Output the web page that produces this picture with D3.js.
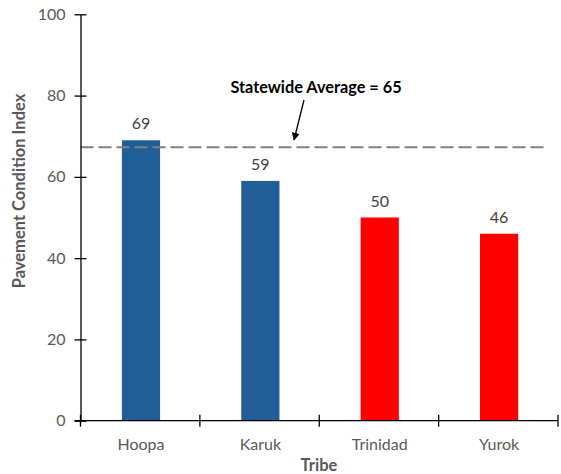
<!DOCTYPE html>
<html><head><meta charset="utf-8">
<script src="https://cdn.jsdelivr.net/npm/d3@7/dist/d3.min.js"></script>
<style>body{margin:0;background:#fff;} svg{display:block;font-family:Lato,"Open Sans",sans-serif;}</style>
</head><body><div id="chart"></div>
<script>
const categories = ["Hoopa", "Karuk", "Trinidad", "Yurok"];
const values = [69, 59, 50, 46];
const barColors = ["#215E99", "#215E99", "#FF0000", "#FF0000"];
const yTicks = [0, 20, 40, 60, 80, 100];
const averageLineValue = 67.3;
const averageLabel = "Statewide Average = 65";
const xTitle = "Tribe";
const yTitle = "Pavement Condition Index";

(function () {
const W = 561, H = 474;
const svg = d3.select("#chart").append("svg").attr("width", W).attr("height", H);

const pLeft = 80.5, pRight = 558, pTop = 14.3, pBottom = 420.7;
const x = d3.scaleBand().domain(categories).range([pLeft, pRight]).paddingInner(0).paddingOuter(0);
const y = d3.scaleLinear().domain([0, 100]).range([pBottom, pTop]);
const barW = x.bandwidth() * 0.32;

// bars
svg.selectAll("rect.bar").data(categories).enter().append("rect")
  .attr("class", "bar")
  .attr("x", d => x(d) + x.bandwidth() / 2 - barW / 2 + 0.8)
  .attr("width", barW)
  .attr("y", (d, i) => y(values[i]))
  .attr("height", (d, i) => y(0) - y(values[i]))
  .attr("fill", (d, i) => barColors[i]);

// value labels
svg.selectAll("text.val").data(categories).enter().append("text")
  .attr("x", d => x(d) + x.bandwidth() / 2 + 0.8)
  .attr("y", (d, i) => y(values[i]) - 11)
  .attr("text-anchor", "middle")
  .attr("font-size", 16)
  .attr("fill", "#404040")
  .text((d, i) => values[i]);

// average dashed line
svg.append("line")
  .attr("x1", pLeft).attr("x2", 545)
  .attr("y1", y(averageLineValue)).attr("y2", y(averageLineValue))
  .attr("stroke", "#808080").attr("stroke-width", 2)
  .attr("stroke-dasharray", "13,5");

// y axis
const yAxis = d3.axisLeft(y).tickValues(yTicks).tickSize(6).tickSizeOuter(0);
const gy = svg.append("g").attr("transform", `translate(${pLeft},0)`).call(yAxis);
gy.select(".domain").attr("stroke", "#000").attr("stroke-width", 1.3);
gy.selectAll(".tick line").attr("stroke", "#000").attr("stroke-width", 1.3).attr("x1", 6).attr("x2", -6);
gy.selectAll(".tick text").attr("x", -15).attr("font-size", 16).attr("fill", "#595959")
  .attr("font-family", "Lato,'Open Sans',sans-serif");

// x axis
const gx = svg.append("g").attr("transform", `translate(0,${pBottom})`);
gx.append("line").attr("x1", pLeft - 6).attr("x2", pRight).attr("y1", 0).attr("y2", 0)
  .attr("stroke", "#000").attr("stroke-width", 1.3);
const bounds = categories.map(c => x(c)).concat([x(categories[categories.length - 1]) + x.bandwidth()]);
gx.selectAll("line.tk").data(bounds).enter().append("line")
  .attr("x1", d => d).attr("x2", d => d).attr("y1", -6).attr("y2", 6)
  .attr("stroke", "#000").attr("stroke-width", 1.3);
gx.selectAll("text.cat").data(categories).enter().append("text")
  .attr("x", d => x(d) + x.bandwidth() / 2 + 0.8)
  .attr("y", 29)
  .attr("text-anchor", "middle").attr("font-size", 16).attr("fill", "#595959")
  .text(d => d);

// axis titles
svg.append("text").attr("x", 319).attr("y", 471).attr("text-anchor", "middle")
  .attr("font-size", 16.5).attr("font-weight", "bold").attr("fill", "#595959").text(xTitle);
svg.append("text").attr("transform", "translate(25,191) rotate(-90)").attr("text-anchor", "middle")
  .attr("font-size", 16.5).attr("font-weight", "bold").attr("fill", "#595959").text(yTitle);

// annotation
svg.append("defs").append("marker").attr("id", "arr").attr("viewBox", "0 0 10 10")
  .attr("refX", 9).attr("refY", 5).attr("markerWidth", 8).attr("markerHeight", 8)
  .attr("markerUnits", "userSpaceOnUse").attr("orient", "auto")
  .append("path").attr("d", "M0,0 L10,5 L0,10 z").attr("fill", "#000");
svg.append("line").attr("x1", 304).attr("y1", 100).attr("x2", 294).attr("y2", 140)
  .attr("stroke", "#000").attr("stroke-width", 1.3).attr("marker-end", "url(#arr)");
svg.append("text").attr("x", 316).attr("y", 92.5).attr("text-anchor", "middle")
  .attr("font-size", 16.3).attr("font-weight", "bold").attr("fill", "#000").text(averageLabel);
})();
</script></body></html>
